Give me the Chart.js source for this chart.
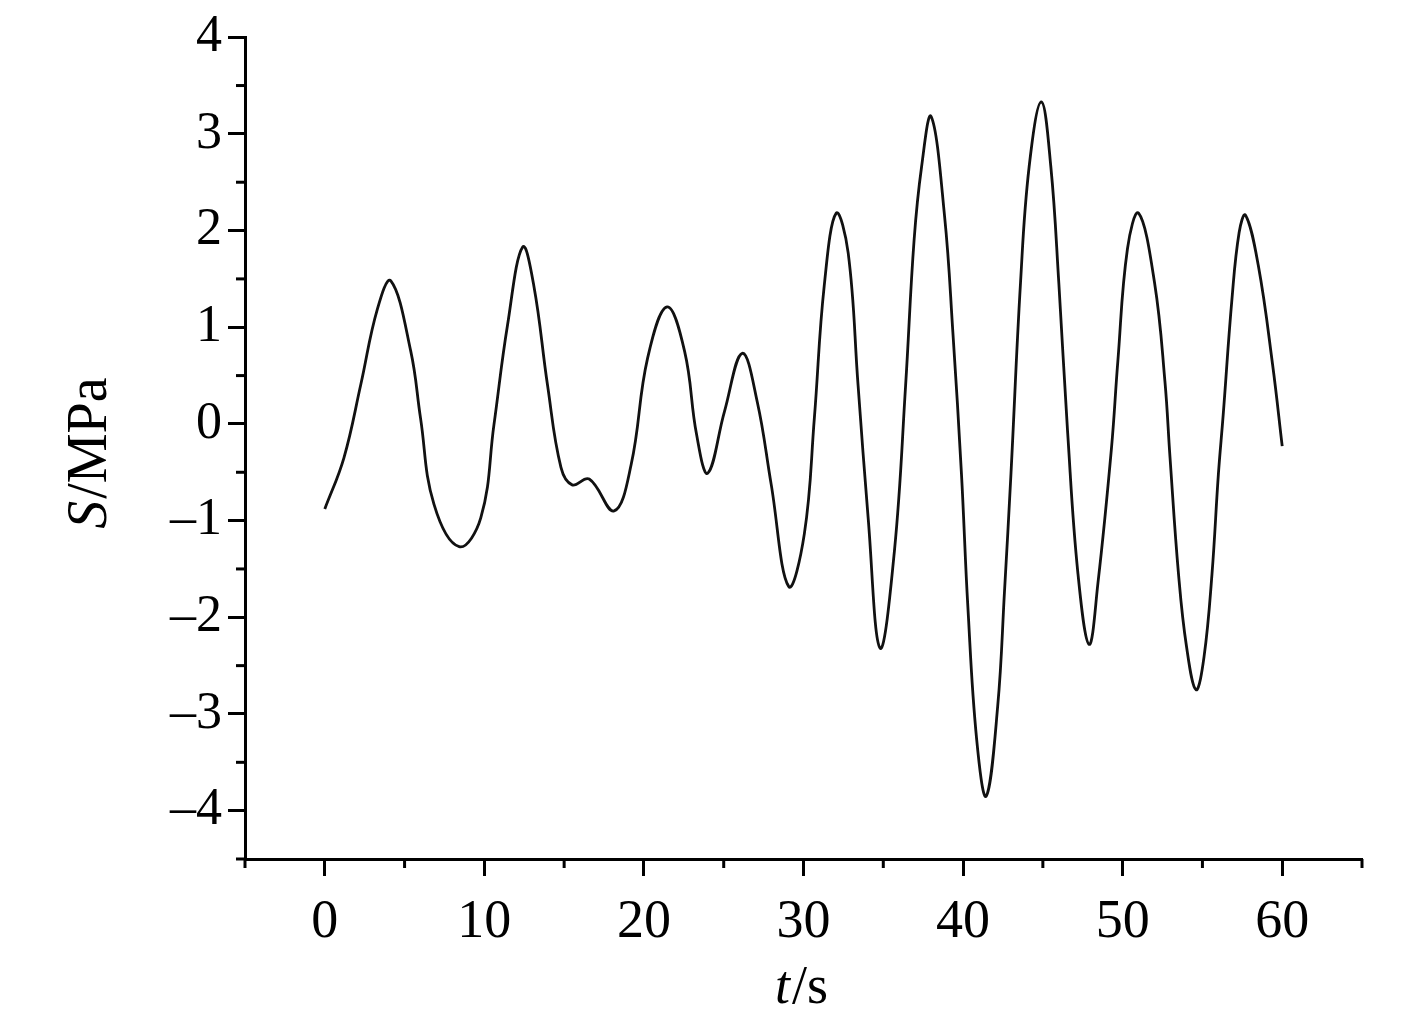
<!DOCTYPE html>
<html>
<head>
<meta charset="utf-8">
<title>S/MPa vs t/s</title>
<script src="https://cdn.jsdelivr.net/npm/chart.js@4/dist/chart.umd.min.js"></script>
<style>
    body { margin: 0; background: #fff; }
    .wrap { width: 1417px; height: 1025px; position: relative; }
</style>
</head>
<body>
<div class="wrap"><canvas id="stressChart"></canvas></div>
<script>

/* ======================================
        Data
====================================== */

const timeS = [
    0, 1.2, 2.26, 3.3, 4.14, 5.39, 6.0, 6.84, 8.42, 9.78,
    10.6, 11.45, 12.4, 13.1, 13.96, 14.8, 15.5, 16.57, 18.13, 19.2,
    20.23, 21.45, 22.55, 23.3, 24.0, 25.05, 26.16, 27.1, 27.97, 29.07,
    30.05, 30.68, 31.3, 32.05, 32.8, 33.42, 34.05, 34.8, 35.7, 36.4,
    36.93, 37.4, 38.0, 38.84, 39.36, 39.9, 40.3, 40.85, 41.45, 42.17,
    42.6, 43.0, 43.6, 44.14, 44.9, 45.5, 46.0, 46.55, 47.2, 47.9,
    48.45, 49.3, 49.7, 50.3, 51.0, 52.0, 52.65, 52.97, 53.5, 54.0,
    54.6, 55.1, 55.6, 56.0, 56.3, 56.85, 57.3, 57.7, 58.5, 59.4,
    60.0
];

const stressMPa = [
    -0.88, -0.35, 0.41, 1.19, 1.48, 0.75, 0.06, -0.83, -1.27, -0.97,
    -0.01, 1.02, 1.83, 1.43, 0.40, -0.45, -0.63, -0.57, -0.90, -0.42,
    0.68, 1.21, 0.75, -0.11, -0.51, 0.13, 0.73, 0.23, -0.62, -1.68,
    -1.14, 0.06, 1.43, 2.18, 1.77, 0.40, -0.97, -2.32, -1.31, 0.40,
    1.90, 2.66, 3.18, 2.15, 0.95, -0.52, -1.89, -3.26, -3.85, -2.92,
    -1.72, -0.52, 1.46, 2.66, 3.33, 2.66, 1.46, -0.08, -1.55, -2.28,
    -1.65, -0.25, 0.65, 1.81, 2.18, 1.46, 0.44, -0.35, -1.55, -2.30,
    -2.75, -2.41, -1.55, -0.52, 0.09, 1.29, 1.98, 2.16, 1.64, 0.61,
    -0.23
];

const xMajorTicks = [0, 10, 20, 30, 40, 50, 60];
const xMinorTicks = [-5, 5, 15, 25, 35, 45, 55, 65];
const yMajorTicks = [-4, -3, -2, -1, 0, 1, 2, 3, 4];
const yMinorTicks = [-4.5, -3.5, -2.5, -1.5, -0.5, 0.5, 1.5, 2.5, 3.5];

const xTitle = ["t", "/s"];
const yTitle = ["S", "/MPa"];

/* ======================================
        Helpers
====================================== */

const FONT = "'Liberation Serif', 'Times New Roman', serif";

const fmtTick = v => (v < 0 ? "\u2013" + Math.abs(v) : String(v));

// minor ticks + axis titles with an italic symbol
const axisExtras = {
    id: "axisExtras",
    afterDraw(chart) {
        const ctx = chart.ctx;
        const xs = chart.scales.x;
        const ys = chart.scales.y;
        const area = chart.chartArea;

        ctx.save();
        ctx.strokeStyle = "#000";
        ctx.lineWidth = 3;

        xMinorTicks.forEach(v => {
            const px = xs.getPixelForValue(v);
            ctx.beginPath();
            ctx.moveTo(px, area.bottom);
            ctx.lineTo(px, area.bottom + 9);
            ctx.stroke();
        });

        yMinorTicks.forEach(v => {
            const py = ys.getPixelForValue(v);
            ctx.beginPath();
            ctx.moveTo(area.left, py);
            ctx.lineTo(area.left - 9, py);
            ctx.stroke();
        });

        // titles
        ctx.fillStyle = "#000";
        ctx.textBaseline = "alphabetic";

        const drawTitle = (parts, size) => {
            ctx.font = "italic " + size + "px " + FONT;
            const w1 = ctx.measureText(parts[0]).width;
            ctx.font = size + "px " + FONT;
            const w2 = ctx.measureText(parts[1]).width;
            const start = -(w1 + w2) / 2;
            ctx.font = "italic " + size + "px " + FONT;
            ctx.fillText(parts[0], start, 0);
            ctx.font = size + "px " + FONT;
            ctx.fillText(parts[1], start + w1 + 2, 0);
        };

        // x title
        ctx.save();
        ctx.translate((area.left + area.right) / 2 - 3, 1003);
        drawTitle(xTitle, 54);
        ctx.restore();

        // y title
        ctx.save();
        ctx.translate(106, (area.top + area.bottom) / 2 + 6);
        ctx.rotate(-Math.PI / 2);
        drawTitle(yTitle, 56);
        ctx.restore();

        ctx.restore();
    }
};

/* ======================================
        Chart
====================================== */

document.addEventListener("DOMContentLoaded", () => {

    const points = timeS.map((t, i) => ({ x: t, y: stressMPa[i] }));

    new Chart(document.getElementById("stressChart"), {

        type: "line",

        data: {
            datasets: [{
                label: "S",
                data: points,
                borderColor: "#111",
                borderWidth: 2.8,
                pointRadius: 0,
                fill: false,
                tension: 0.4
            }]
        },

        options: {
            responsive: true,
            maintainAspectRatio: false,
            animation: false,
            layout: {
                padding: { top: 33, right: 55, left: 0, bottom: 0 }
            },
            plugins: {
                legend: { display: false },
                tooltip: { enabled: false }
            },
            scales: {
                x: {
                    type: "linear",
                    min: -5,
                    max: 65,
                    afterBuildTicks: s => { s.ticks = xMajorTicks.map(v => ({ value: v })); },
                    afterFit: s => { s.height = 166; },
                    grid: {
                        drawOnChartArea: false,
                        drawTicks: true,
                        tickLength: 17,
                        tickWidth: 3,
                        tickColor: "#000"
                    },
                    border: { display: true, color: "#000", width: 3 },
                    ticks: {
                        color: "#000",
                        padding: 14,
                        maxRotation: 0,
                        font: { family: FONT, size: 54 },
                        callback: v => fmtTick(v)
                    }
                },
                y: {
                    type: "linear",
                    min: -4.5,
                    max: 4,
                    afterBuildTicks: s => { s.ticks = yMajorTicks.map(v => ({ value: v })); },
                    afterFit: s => { s.width = 245; },
                    grid: {
                        drawOnChartArea: false,
                        drawTicks: true,
                        tickLength: 17,
                        tickWidth: 3,
                        tickColor: "#000"
                    },
                    border: { display: true, color: "#000", width: 3 },
                    ticks: {
                        color: "#000",
                        padding: 6,
                        font: { family: FONT, size: 52 },
                        callback: v => fmtTick(v)
                    }
                }
            }
        },

        plugins: [axisExtras]

    });

});
</script>
</body>
</html>
